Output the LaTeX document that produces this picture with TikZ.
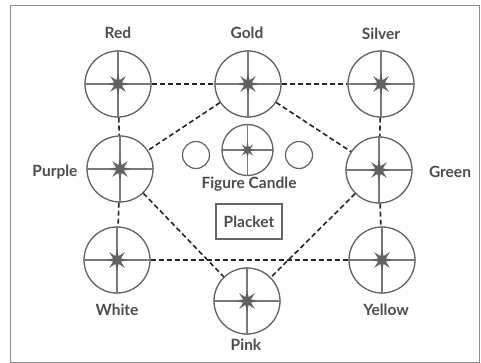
\documentclass[tikz,border=0pt]{standalone}
\usepackage{fontspec}
\setmainfont{Lato}
\usetikzlibrary{shapes.geometric}
\tikzset{
  cand/.style={circle, draw=black!62, line width=1.3pt, minimum size=66pt, inner sep=0pt},
  smallc/.style={circle, draw=black!62, line width=1.2pt, minimum size=27pt, inner sep=0pt},
  conn/.style={draw=black!85, line width=1.6pt, dash pattern=on 5pt off 3pt},
  lbl/.style={font=\fontsize{15.5}{17}\selectfont\bfseries, text=black!70, inner sep=0pt},
  crossl/.style={draw=black!52, line width=1.2pt},
  starf/.style={star, star points=8, star point ratio=2.6, minimum size=22pt, inner sep=0pt, fill=black!62, draw=none},
}
\newcommand{\candle}[4]{% name, x, y, style
  \node[#4] (#1) at (#2,#3) {};
  \draw[crossl] (#1.west) -- (#1.east) (#1.north) -- (#1.south);
  \node[starf] (#1s) at (#1.center) {};
}
\begin{document}
\begin{tikzpicture}[x=1pt,y=-1pt]
\useasboundingbox (0,0) rectangle (481,363);
\draw[black!45, line width=1pt] (10,6) rectangle (479,362);
\candle{red}{118}{84}{cand}
\candle{gold}{248}{84}{cand}
\candle{silver}{381}{84}{cand}
\candle{purple}{120}{169}{cand}
\candle{green}{379}{170}{cand}
\candle{white}{117}{260}{cand}
\candle{yellow}{382}{260}{cand}
\candle{pink}{247}{301}{cand}
\node[cand, minimum size=51pt] (fig) at (247.5,150) {};
\draw[crossl] (fig.west) -- (fig.east) (fig.north) -- (fig.south);
\node[starf, minimum size=16pt] (figs) at (fig.center) {};
\node[smallc] (sl) at (196,155) {};
\node[smallc] (sr) at (299,155) {};
\node[lbl] (lred) at (118,33) {Red};
\node[lbl] (lgold) at (247,33) {Gold};
\node[lbl] (lsilver) at (381,34) {Silver};
\node[lbl] (lpurple) at (55,172) {Purple};
\node[lbl] (lgreen) at (450,172) {Green};
\node[lbl] (lwhite) at (117,310) {White};
\node[lbl] (lyellow) at (386,310) {Yellow};
\node[lbl] (lpink) at (246,345) {Pink};
\node[lbl] (lfig) at (249,184) {Figure Candle};
\node[lbl, draw=black!60, line width=1.3pt, minimum width=66pt, minimum height=35pt] (placket) at (249,221.5) {Placket};
\path[conn] (red) -- (gold);
\path[conn] (gold) -- (silver);
\path[conn] (red) -- (purple);
\path[conn] (purple) -- (white);
\path[conn] (silver) -- (green);
\path[conn] (green) -- (yellow);
\path[conn] (white) -- (yellow);
\path[conn] (gold) -- (purple);
\path[conn] (gold) -- (green);
\path[conn] (purple) -- (pink);
\path[conn] (green) -- (pink);
\end{tikzpicture}
\end{document}
